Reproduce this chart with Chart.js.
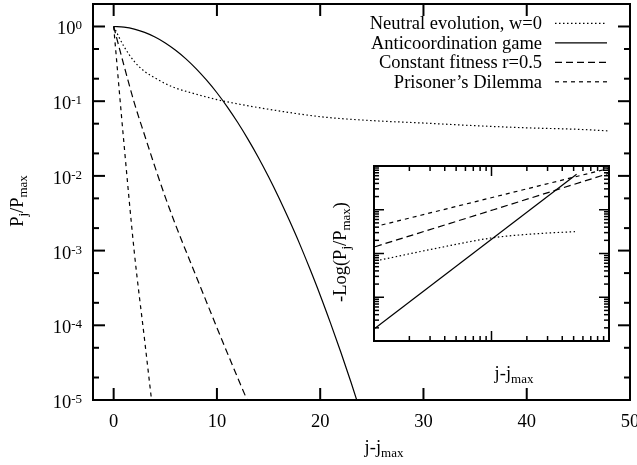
<!DOCTYPE html>
<html>
<head>
<meta charset="utf-8">
<script src="https://cdn.jsdelivr.net/npm/chart.js@4"></script>
<style>
  body { margin: 0; background: #fff; }
  #wrap { position: relative; width: 637px; height: 465px; }
  #main { position: absolute; left: 0; top: 0; }
  #inset { position: absolute; left: 325px; top: 160px; }
</style>
</head>
<body>
<div id="wrap">
  <canvas id="main" width="637" height="465"></canvas>
  <canvas id="inset" width="300" height="225"></canvas>
</div>
<script>
// main plot: P_j / P_max against j - j_max
const neutralJ = [0, 1, 2, 3, 4, 5, 6, 8, 10, 12, 15, 20, 25, 30, 35, 40, 45, 48];
const neutralP = [1, 0.54, 0.34, 0.25, 0.205, 0.172, 0.15, 0.124, 0.105, 0.092, 0.078, 0.062, 0.055, 0.051, 0.047, 0.044, 0.042, 0.040];

const antiJ = [0, 1, 2, 3, 4, 5, 6, 7, 8, 9, 10, 11, 12, 13, 14, 15, 16, 17, 18, 19, 20, 21, 22, 23, 24];
const antiP = [1, 0.98, 0.924, 0.834, 0.724, 0.603, 0.481, 0.369, 0.271, 0.191, 0.1297, 0.0841, 0.0522, 0.0311,
               0.0178, 0.00973, 0.0051, 0.00256, 0.00124, 5.7e-4, 2.53e-4, 1.07e-4, 4.36e-5, 1.7e-5, 6.3e-6];

const fitnessJ = [0, 1, 2, 3, 4, 5, 6, 8, 10, 12, 14];
const fitnessP = [1, 0.30, 0.095, 0.035, 0.0132, 0.0052, 0.0022, 4.5e-4, 9.3e-5, 2.0e-5, 4.5e-6];

const pdJ = [0, 1, 2, 3, 4];
const pdP = [1, 0.027, 9.5e-4, 6.3e-5, 4e-6];

// inset: -ln(P_j / P_max) against j - j_max, log-log
const insetNeutralJ = [1.125, 3.42, 10.4, 27.6, 51.4];
const insetNeutralL = [0.71, 1.32, 2.30, 2.9, 3.15];
const insetAntiJ = [1.02, 53];
const insetAntiL = [0.0195, 65];
const insetFitnessJ = [1.02, 10.4, 100];
const insetFitnessL = [1.43, 10, 68];
const insetPdJ = [1.16, 100];
const insetPdL = [4.48, 88];

const seriesLabels = ['Neutral evolution, w=0', 'Anticoordination game', 'Constant fitness r=0.5', "Prisoner\u2019s Dilemma"];
const xTickValues = [0, 10, 20, 30, 40, 50];
const yTickExponents = [0, -1, -2, -3, -4, -5];
const yMinorFactors = [2, 5];

const SERIF = '"Liberation Serif", "Times New Roman", serif';
const BASE = '18.5px ' + SERIF;
const SMALL = '13px ' + SERIF;
const dashes = [[1.5, 2.5], [], [7, 4], [4, 4]];

function toPoints(xs, ys) {
    return xs.map((v, i) => ({x: v, y: ys[i]}));
}

function seg(ctx, x1, y1, x2, y2) {
    ctx.beginPath();
    ctx.moveTo(x1, y1);
    ctx.lineTo(x2, y2);
    ctx.stroke();
}

// text with sub/superscripts: parts = [{t, s}] where s is a vertical offset
function drawRich(ctx, parts, x, y, align) {
    let w = 0;
    parts.forEach(p => {
        ctx.font = p.s ? SMALL : BASE;
        w += ctx.measureText(p.t).width;
    });
    let cx = align === 'right' ? x - w : align === 'center' ? x - w / 2 : x;
    ctx.textAlign = 'left';
    ctx.textBaseline = 'alphabetic';
    parts.forEach(p => {
        ctx.font = p.s ? SMALL : BASE;
        ctx.fillText(p.t, cx, y + (p.s || 0));
        cx += ctx.measureText(p.t).width;
    });
}

function drawRotated(ctx, parts, x, y) {
    ctx.save();
    ctx.translate(x, y);
    ctx.rotate(-Math.PI / 2);
    drawRich(ctx, parts, 0, 0, 'center');
    ctx.restore();
}

const jTitle = [{t: 'j-j'}, {t: 'max', s: 4}];

const mainFrame = {
    id: 'mainFrame',
    afterDraw(chart) {
        const {ctx, chartArea: a, scales: {x, y}} = chart;
        ctx.save();
        ctx.strokeStyle = '#000';
        ctx.fillStyle = '#000';
        ctx.lineWidth = 2;
        ctx.strokeRect(a.left, a.top, a.right - a.left, a.bottom - a.top);

        xTickValues.forEach(v => {
            const px = x.getPixelForValue(v);
            seg(ctx, px, a.bottom, px, a.bottom - 12);
            seg(ctx, px, a.top, px, a.top + 12);
            ctx.font = BASE;
            ctx.textAlign = 'center';
            ctx.textBaseline = 'alphabetic';
            ctx.fillText(String(v), px, a.bottom + 27);
        });

        yTickExponents.forEach(e => {
            const py = y.getPixelForValue(Math.pow(10, e));
            seg(ctx, a.left, py, a.left + 12, py);
            seg(ctx, a.right, py, a.right - 12, py);
            drawRich(ctx, [{t: '10'}, {t: String(e), s: -5}], a.left - 11, py + 8, 'right');
            yMinorFactors.forEach(f => {
                const v = f * Math.pow(10, e);
                if (v >= y.max || v <= y.min) return;
                const pm = y.getPixelForValue(v);
                seg(ctx, a.left, pm, a.left + 6, pm);
                seg(ctx, a.right, pm, a.right - 6, pm);
            });
        });

        drawRich(ctx, jTitle, 384, 453, 'center');
        drawRotated(ctx, [{t: 'P'}, {t: 'j', s: 4}, {t: '/P'}, {t: 'max', s: 4}], 23, 201);

        // legend, text on the left of the line sample
        ctx.lineWidth = 1.2;
        chart.data.datasets.forEach((ds, i) => {
            const ly = 23.3 + i * 19.5;
            ctx.font = BASE;
            ctx.textAlign = 'right';
            ctx.textBaseline = 'alphabetic';
            ctx.fillText(ds.label, 542, ly + 6);
            ctx.setLineDash(ds.borderDash || []);
            seg(ctx, 555, ly, 607, ly);
            ctx.setLineDash([]);
        });
        ctx.restore();
    }
};

const insetFrame = {
    id: 'insetFrame',
    beforeDatasetsDraw(chart) {
        const {ctx, chartArea: a} = chart;
        ctx.save();
        ctx.fillStyle = '#fff';
        ctx.fillRect(a.left, a.top, a.right - a.left, a.bottom - a.top);
        ctx.restore();
    },
    afterDraw(chart) {
        const {ctx, chartArea: a, scales: {x, y}} = chart;
        ctx.save();
        ctx.strokeStyle = '#000';
        ctx.fillStyle = '#000';
        ctx.lineWidth = 2;
        ctx.strokeRect(a.left, a.top, a.right - a.left, a.bottom - a.top);
        ctx.lineWidth = 1.5;
        for (let d = 1; d <= 100; d *= 10) {
            for (let k = 1; k <= 9; k++) {
                const v = d * k;
                if (v > 100) break;
                const len = k === 1 ? 10 : 5;
                const px = x.getPixelForValue(v);
                seg(ctx, px, a.bottom, px, a.bottom - len);
                seg(ctx, px, a.top, px, a.top + len);
            }
        }
        for (let d = 0.01; d <= 100; d *= 10) {
            for (let k = 1; k <= 9; k++) {
                const v = d * k;
                if (v > 100.0001) break;
                const len = k === 1 ? 10 : 5;
                const py = y.getPixelForValue(v);
                seg(ctx, a.left, py, a.left + len, py);
                seg(ctx, a.right, py, a.right - len, py);
            }
        }
        drawRich(ctx, jTitle, 189, 219, 'center');
        drawRotated(ctx, [{t: '-Log(P'}, {t: 'j', s: 4}, {t: '/P'}, {t: 'max', s: 4}, {t: ')'}], 21, 92);
        ctx.restore();
    }
};

function makeDatasets(pairs) {
    return pairs.map((p, i) => ({
        label: seriesLabels[i],
        data: toPoints(p[0], p[1]),
        borderColor: '#000',
        borderWidth: 1.2,
        borderDash: dashes[i],
        pointRadius: 0,
        fill: false,
        cubicInterpolationMode: 'monotone'
    }));
}

new Chart(document.getElementById('main'), {
    type: 'line',
    data: {
        datasets: makeDatasets([[neutralJ, neutralP], [antiJ, antiP], [fitnessJ, fitnessP], [pdJ, pdP]])
    },
    options: {
        responsive: false,
        animation: false,
        layout: {padding: {left: 93, top: 4, right: 7, bottom: 65}},
        scales: {
            x: {type: 'linear', min: -2, max: 50, display: false},
            y: {type: 'logarithmic', min: 1e-5, max: 2, display: false}
        },
        plugins: {legend: {display: false}, tooltip: {enabled: false}}
    },
    plugins: [mainFrame]
});

new Chart(document.getElementById('inset'), {
    type: 'line',
    data: {
        datasets: makeDatasets([[insetNeutralJ, insetNeutralL], [insetAntiJ, insetAntiL],
                                [insetFitnessJ, insetFitnessL], [insetPdJ, insetPdL]])
    },
    options: {
        responsive: false,
        animation: false,
        layout: {padding: {left: 49, top: 6, right: 16, bottom: 44}},
        scales: {
            x: {type: 'logarithmic', min: 1, max: 100, display: false},
            y: {type: 'logarithmic', min: 0.01, max: 100, display: false}
        },
        plugins: {legend: {display: false}, tooltip: {enabled: false}}
    },
    plugins: [insetFrame]
});
</script>
</body>
</html>
